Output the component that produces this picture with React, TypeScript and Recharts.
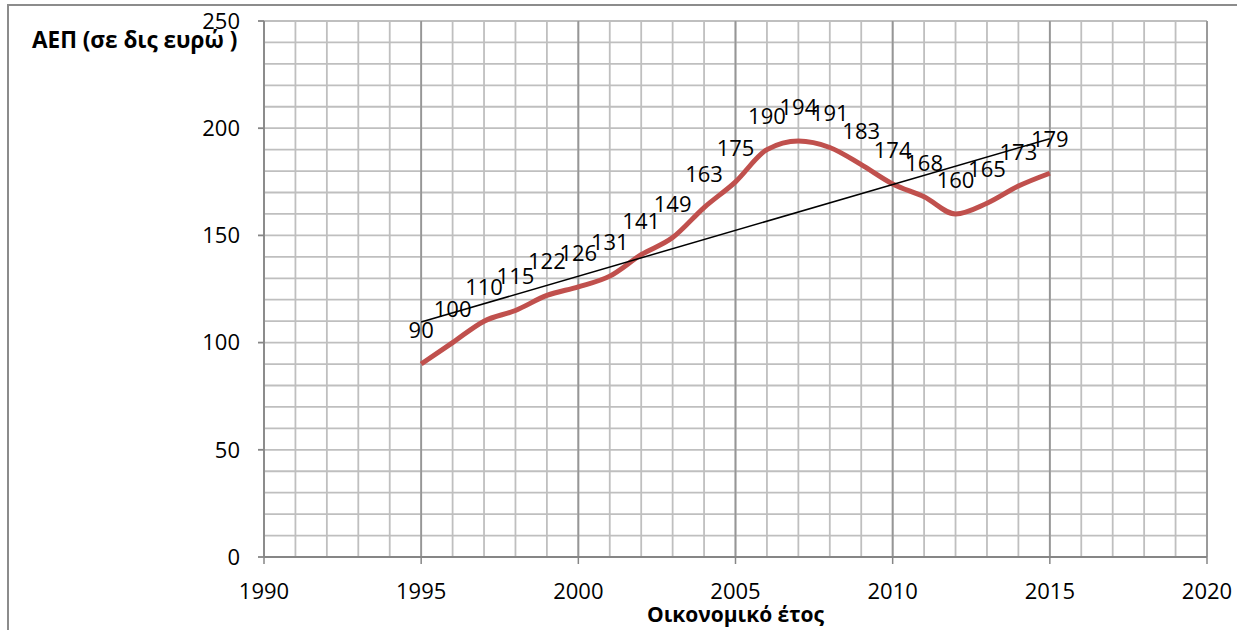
import React from 'react';
import { LineChart, Line, XAxis, YAxis, CartesianGrid, LabelList, ReferenceLine } from 'recharts';

// fiscal years and GDP values (billion euro)
const years = [1995, 1996, 1997, 1998, 1999, 2000, 2001, 2002, 2003, 2004, 2005, 2006, 2007, 2008, 2009, 2010, 2011, 2012, 2013, 2014, 2015];
const gdp = [90, 100, 110, 115, 122, 126, 131, 141, 149, 163, 175, 190, 194, 191, 183, 174, 168, 160, 165, 173, 179];

// linear trend line end points
const trendYears = [1995, 2015];
const trendValues = [109.6, 195.1];

const majorYears = [1995, 2000, 2005, 2010, 2015, 2020];
const yTicks = [0, 50, 100, 150, 200, 250];

// grid values: every year vertically, every 10 horizontally
const minorYears = Array.from({ length: 31 }, (_, i) => 1990 + i);
const gridValues = Array.from({ length: 26 }, (_, i) => i * 10);

const FONT = '"Open Sans", sans-serif';
const X_TICK_SIZE = 7;
const X_TICK_MARGIN = 19;

const gdpData = years.map((year, i) => ({ year, value: gdp[i] }));
const trendData = trendYears.map((year, i) => ({ year, value: trendValues[i] }));

// only every fifth year gets a tick mark and a label
const YearTick = ({ x, y, payload }: any) => {
    if (payload.value % 5 !== 0) return null;
    const axisY = y - X_TICK_SIZE - X_TICK_MARGIN;
    return (
        <g>
            <line x1={x} x2={x} y1={axisY} y2={axisY + X_TICK_SIZE} stroke="#868686" strokeWidth={1.5} />
            <text x={x} y={y} dy="0.71em" textAnchor="middle" fill="#000" fontSize={22} fontFamily={FONT}>
                {payload.value}
            </text>
        </g>
    );
};

const YTitle = () => (
    <text x={32} y={48} fontFamily={FONT} fontSize={22.5} fontWeight="bold" fill="#000">
        ΑΕΠ (σε δις ευρώ )
    </text>
);

const XTitle = ({ viewBox }: any) => (
    <text
        x={viewBox.x + viewBox.width / 2}
        y={622}
        textAnchor="middle"
        fontFamily={FONT}
        fontSize={21}
        fontWeight="bold"
        fill="#000"
    >
        Οικονομικό έτος
    </text>
);

const App: React.FC = () => {
    return (
        <div style={{ position: 'fixed', left: 0, top: 0, width: 1237, height: 630, overflow: 'hidden', background: '#fff' }}>
            <div style={{
                position: 'absolute',
                left: 7,
                top: 4,
                width: 1300,
                height: 700,
                border: '2px solid #8c8c8c'
            }} />
            <div style={{ position: 'absolute', left: 0, top: 0 }}>
                <LineChart
                    width={1237}
                    height={630}
                    margin={{ top: 21, right: 30, bottom: 0, left: 0 }}
                >
                    {/* hidden axis that only feeds the horizontal fine grid */}
                    <YAxis yAxisId="minor" type="number" domain={[0, 250]} ticks={gridValues} interval={0} allowDataOverflow hide />
                    <CartesianGrid
                        yAxisId="minor"
                        stroke="#bfbfbf"
                        strokeWidth={1.8}
                    />
                    {majorYears.map(yr => (
                        <ReferenceLine key={yr} x={yr} stroke="#969696" strokeWidth={1.8} zIndex={-50} />
                    ))}
                    <XAxis
                        dataKey="year"
                        type="number"
                        domain={[1990, 2020]}
                        ticks={minorYears}
                        interval={0}
                        allowDataOverflow
                        height={73}
                        stroke="#868686"
                        strokeWidth={1.8}
                        tickLine={false}
                        tickSize={X_TICK_SIZE}
                        tickMargin={X_TICK_MARGIN}
                        tick={<YearTick />}
                        label={<XTitle />}
                    />
                    <YAxis
                        type="number"
                        domain={[0, 250]}
                        ticks={yTicks}
                        interval={0}
                        width={264}
                        stroke="#868686"
                        strokeWidth={1.8}
                        tickSize={6}
                        tickMargin={18}
                        tick={{ fill: '#000', fontSize: 22, fontFamily: FONT }}
                        label={<YTitle />}
                    />
                    <Line
                        data={gdpData}
                        dataKey="value"
                        type="monotone"
                        stroke="#C0504D"
                        strokeWidth={5}
                        dot={false}
                        activeDot={false}
                        isAnimationActive={false}
                    >
                        <LabelList
                            dataKey="value"
                            position="top"
                            offset={26}
                            fill="#000"
                            fontSize={22}
                            fontFamily={FONT}
                        />
                    </Line>
                    <Line
                        data={trendData}
                        dataKey="value"
                        type="linear"
                        stroke="#000"
                        strokeWidth={1.5}
                        dot={false}
                        activeDot={false}
                        isAnimationActive={false}
                    />
                </LineChart>
            </div>
        </div>
    );
};

export default App;
